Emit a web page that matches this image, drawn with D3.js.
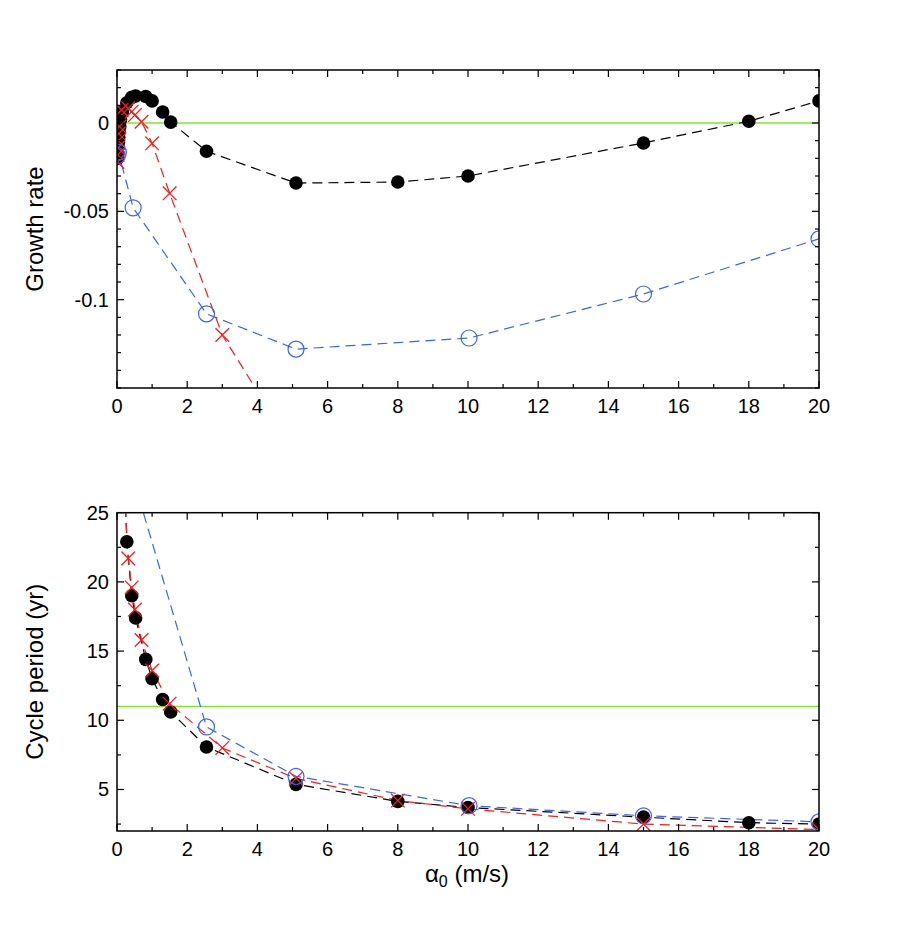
<html>
<head>
<meta charset="utf-8">
<title>Growth rate and cycle period vs alpha0</title>
<script src="https://cdn.jsdelivr.net/npm/d3@7"></script>
<style>
  body { margin: 0; background: white; font-family: "Liberation Sans", Arial, sans-serif; }
  svg text { font-family: "Liberation Sans", Arial, sans-serif; fill: black; }
</style>
</head>
<body>
<div id="chart"></div>
<script>
// ---- data ----
// black filled circles
var blackAlpha  = [0.01, 0.02, 0.03, 0.04, 0.05, 0.06, 0.08, 0.1, 0.15, 0.28, 0.42, 0.53, 0.82, 1.0, 1.3, 1.53, 2.55, 5.1, 8, 10, 15, 18, 20];
var blackGrowth = [-0.02, -0.017, -0.014, -0.011, -0.008, -0.005, -0.002, 0.002, 0.006, 0.0115, 0.0145, 0.0153, 0.015, 0.0125, 0.0062, 0.0005, -0.016, -0.034, -0.0334, -0.030, -0.0113, 0.001, 0.0125];
var blackPeriod = [400, 300, 220, 160, 120, 90, 60, 45, 32, 22.9, 19.0, 17.4, 14.4, 13.0, 11.5, 10.6, 8.07, 5.37, 4.14, 3.7, 3.0, 2.6, 2.5];

// red crosses
var redAlpha  = [0.01, 0.02, 0.03, 0.04, 0.05, 0.07, 0.13, 0.32, 0.42, 0.51, 0.7, 1.0, 1.5, 3.0, 5.1, 8, 10, 15, 20];
var redGrowth = [-0.022, -0.018, -0.014, -0.01, -0.006, -0.002, 0.0074, 0.0083, 0.0064, 0.0045, 0.0007, -0.0115, -0.0398, -0.12, -0.187, -0.23, -0.24, -0.23, -0.21];
var redPeriod = [400, 300, 200, 150, 110, 80, 30, 21.7, 19.6, 18.0, 15.8, 13.6, 11.2, 8.0, 5.8, 4.2, 3.6, 2.5, 2.1];

// blue open circles
var blueAlpha  = [0.01, 0.04, 0.46, 2.55, 5.1, 10.03, 15, 20];
var blueGrowth = [-0.0185, -0.0165, -0.048, -0.108, -0.128, -0.1217, -0.0968, -0.0656];
var bluePeriod = [300, 100, 27.5, 9.52, 5.95, 3.83, 3.1, 2.66];

// reference lines
var growthRef = 0;
var periodRef = 11;

var xTicks = [0, 2, 4, 6, 8, 10, 12, 14, 16, 18, 20];
var growthTicks = [0, -0.05, -0.1];
var growthTickLabels = ["0", "-0.05", "-0.1"];
var periodTicks = [5, 10, 15, 20, 25];

var width = 905, height = 935;
var left = 117, right = 819;

var svg = d3.select("#chart").append("svg")
    .attr("width", width)
    .attr("height", height);

var x = d3.scaleLinear().domain([0, 20]).range([left, right]);

var colBlack = "#000000", colRed = "#ff1a1a", colBlue = "#3a62ff", colGreen = "#77ee22";

function zip(a, b) {
    return a.map(function(v, i) { return [v, b[i]]; });
}

function drawPanel(id, top, bottom, yDomain, yMajor, yMajorLabels, yMinorStep, refVal, yTitle, series) {
    var y = d3.scaleLinear().domain(yDomain).range([bottom, top]);
    var g = svg.append("g");

    g.append("clipPath").attr("id", "clip" + id)
      .append("rect")
        .attr("x", left).attr("y", top)
        .attr("width", right - left).attr("height", bottom - top);

    var plot = g.append("g").attr("clip-path", "url(#clip" + id + ")");

    // reference line
    plot.append("line")
        .attr("x1", left).attr("x2", right)
        .attr("y1", y(refVal)).attr("y2", y(refVal))
        .attr("stroke", colGreen).attr("stroke-width", 1.3);

    var line = d3.line()
        .x(function(d) { return x(d[0]); })
        .y(function(d) { return y(d[1]); });

    series.forEach(function(s) {
        plot.append("path")
            .datum(s.data)
            .attr("d", line)
            .attr("fill", "none")
            .attr("stroke", s.color)
            .attr("stroke-width", 1.2)
            .attr("stroke-dasharray", "10,6");
    });

    series.forEach(function(s) {
        var pts = plot.selectAll(null).data(s.data).enter();
        if (s.marker == "dot") {
            pts.append("circle")
                .attr("cx", function(d) { return x(d[0]); })
                .attr("cy", function(d) { return y(d[1]); })
                .attr("r", 6.8)
                .attr("fill", s.color);
        } else if (s.marker == "ring") {
            pts.append("circle")
                .attr("cx", function(d) { return x(d[0]); })
                .attr("cy", function(d) { return y(d[1]); })
                .attr("r", 8)
                .attr("fill", "none")
                .attr("stroke", s.color)
                .attr("stroke-width", 1.2);
        } else {
            var k = 6.8;
            pts.append("path")
                .attr("d", function(d) {
                    var cx = x(d[0]), cy = y(d[1]);
                    return "M" + (cx - k) + "," + (cy - k) + "L" + (cx + k) + "," + (cy + k) +
                           "M" + (cx - k) + "," + (cy + k) + "L" + (cx + k) + "," + (cy - k);
                })
                .attr("stroke", s.color)
                .attr("stroke-width", 1.3)
                .attr("fill", "none");
        }
    });

    // frame
    g.append("rect")
        .attr("x", left).attr("y", top)
        .attr("width", right - left).attr("height", bottom - top)
        .attr("fill", "none").attr("stroke", "black").attr("stroke-width", 1.5);

    // x ticks, bottom and top, pointing inward
    var xMinor = d3.range(0, 20.001, 1);
    xMinor.forEach(function(v) {
        var len = (v % 2 == 0) ? 7 : 4;
        g.append("line").attr("x1", x(v)).attr("x2", x(v))
            .attr("y1", bottom).attr("y2", bottom - len)
            .attr("stroke", "black").attr("stroke-width", 1.2);
        g.append("line").attr("x1", x(v)).attr("x2", x(v))
            .attr("y1", top).attr("y2", top + len)
            .attr("stroke", "black").attr("stroke-width", 1.2);
    });
    g.selectAll(null).data(xTicks).enter().append("text")
        .attr("x", function(d) { return x(d); })
        .attr("y", bottom + 25)
        .attr("text-anchor", "middle")
        .attr("font-size", 20)
        .text(function(d) { return d; });

    // y ticks, left and right
    var lo = Math.min(yDomain[0], yDomain[1]), hi = Math.max(yDomain[0], yDomain[1]);
    var start = Math.ceil(lo / yMinorStep - 1e-6);
    for (var i = start; i * yMinorStep <= hi + 1e-9; i++) {
        var v = i * yMinorStep;
        var isMajor = yMajor.some(function(m) { return Math.abs(m - v) < 1e-9; });
        var len = isMajor ? 7 : 4;
        g.append("line").attr("x1", left).attr("x2", left + len)
            .attr("y1", y(v)).attr("y2", y(v))
            .attr("stroke", "black").attr("stroke-width", 1.2);
        g.append("line").attr("x1", right).attr("x2", right - len)
            .attr("y1", y(v)).attr("y2", y(v))
            .attr("stroke", "black").attr("stroke-width", 1.2);
    }
    g.selectAll(null).data(yMajor).enter().append("text")
        .attr("x", left - 8)
        .attr("y", function(d) { return y(d) + 7; })
        .attr("text-anchor", "end")
        .attr("font-size", 20)
        .text(function(d, i) { return yMajorLabels[i]; });

    g.append("text")
        .attr("transform", "translate(43," + ((top + bottom) / 2) + ") rotate(-90)")
        .attr("text-anchor", "middle")
        .attr("font-size", 24)
        .text(yTitle);
}

drawPanel("top", 70, 388, [-0.15, 0.03], growthTicks, growthTickLabels, 0.01, growthRef, "Growth rate", [
    { data: zip(blackAlpha, blackGrowth), color: colBlack, marker: "dot" },
    { data: zip(redAlpha, redGrowth), color: colRed, marker: "cross" },
    { data: zip(blueAlpha, blueGrowth), color: colBlue, marker: "ring" }
]);

drawPanel("bot", 512.7, 831, [2, 25], periodTicks, periodTicks.map(String), 2.5, periodRef, "Cycle period (yr)", [
    { data: zip(blackAlpha, blackPeriod), color: colBlack, marker: "dot" },
    { data: zip(redAlpha, redPeriod), color: colRed, marker: "cross" },
    { data: zip(blueAlpha, bluePeriod), color: colBlue, marker: "ring" }
]);

// x axis title
var xt = svg.append("text")
    .attr("x", 467).attr("y", 882)
    .attr("text-anchor", "middle")
    .attr("font-size", 24);
xt.append("tspan").text("\u03B1");
xt.append("tspan").attr("font-size", 16).attr("dy", 5).text("0");
xt.append("tspan").attr("dy", -5).text(" (m/s)");
</script>
</body>
</html>
